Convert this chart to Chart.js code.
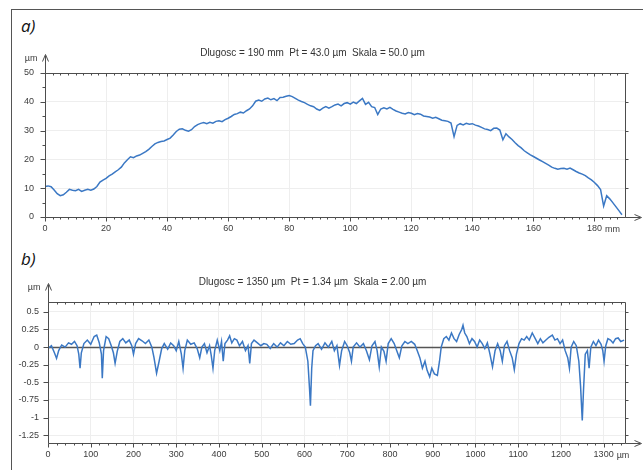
<!DOCTYPE html>
<html>
<head>
<meta charset="utf-8">
<script src="https://cdn.jsdelivr.net/npm/chart.js@4"></script>
<style>
  body { margin: 0; background: #fff; }
  #wrap { position: relative; width: 643px; height: 470px; overflow: hidden; background: #fff; }
  #frame { position: absolute; left: 11px; top: 9px; width: 700px; height: 500px; border-left: 1px solid #555; border-top: 1px solid #555; }
  .tag { position: absolute; font-family: "Open Sans", sans-serif; font-style: italic; font-size: 17px; color: #111; line-height: 1; }
  canvas { position: absolute; left: 0; }
</style>
</head>
<body>
<div id="wrap">
  <div id="frame"></div>
  <div class="tag" style="left:21px;top:17px">a)</div>
  <div class="tag" style="left:21px;top:250px">b)</div>
  <canvas id="chartA" width="643" height="200" style="top:40px"></canvas>
  <canvas id="chartB" width="643" height="202" style="top:268px"></canvas>
</div>
<script>
// panel a) - long profile, mm / um
const aMm = [0,1,2,3,4,5,6,7,8,9,10,11,12,13,14,15,16,17,18,19,20,21,22,23,24,25,26,27,28,29,30,31,32,33,34,35,36,37,38,39,40,41,42,43,44,45,46,47,48,49,50,51,52,53,54,55,56,57,58,59,60,61,62,63,64,65,66,67,68,69,70,71,72,73,74,75,76,77,78,79,80,81,82,83,84,85,86,87,88,89,90,91,92,93,94,95,96,97,98,99,100,101,102,103,104,105,106,107,108,109,110,111,112,113,114,115,116,117,118,119,120,121,122,123,124,125,126,127,128,129,130,131,132,133,134,135,136,137,138,139,140,141,142,143,144,145,146,147,148,149,150,151,152,153,154,155,156,157,158,159,160,161,162,163,164,165,166,167,168,169,170,171,172,173,174,175,176,177,178,179,180,181,182,183,184,185,186,187,188,189];
const aUm = [10.6,10.8,10.5,9.4,8.1,7.4,7.7,8.6,9.6,9.3,9.1,9.6,8.9,9.3,9.6,9.3,9.7,10.6,12.1,12.8,13.4,14.3,14.9,15.7,16.4,17.3,18.8,19.9,20.9,20.6,21.2,21.5,22.1,22.7,23.5,24.5,25.4,25.9,26.2,26.4,26.9,27.4,28.5,29.7,30.5,30.6,30.1,29.8,30.3,31.4,32.1,32.5,32.8,32.4,32.9,32.6,33.2,33.4,33.1,33.8,34.3,34.9,35.6,35.9,36.4,36.1,36.9,37.5,38.6,40.2,40.6,40.2,41.0,41.3,40.7,41.1,40.4,41.5,41.6,41.9,42.2,41.8,41.2,40.6,40.1,39.7,39.1,38.6,38.3,37.5,37.0,37.8,38.3,37.8,38.3,38.9,39.2,38.6,39.4,39.7,39.2,39.9,39.4,40.3,41.2,39.1,39.8,38.3,38.0,35.6,37.5,37.9,37.5,38.1,37.4,36.8,36.4,36.0,35.8,36.3,36.0,35.5,35.9,35.7,35.1,34.9,34.7,34.3,34.6,34.1,33.6,33.4,33.2,32.6,27.9,31.8,32.4,32.0,32.5,32.2,32.4,31.9,31.6,31.1,30.6,30.4,30.0,30.8,30.9,30.2,26.8,28.9,27.8,26.9,25.8,24.8,24.0,23.0,22.3,21.6,21.0,20.4,19.8,19.2,18.6,18.0,17.3,16.9,16.6,16.8,16.9,16.6,17.0,16.4,15.8,15.3,14.9,14.4,13.6,12.9,12.0,10.9,9.5,3.8,7.4,6.3,5.0,3.6,2.2,0.8];
const aXTicks = [0,20,40,60,80,100,120,140,160,180];
const aXMinor = [2.5,5,7.5,10,12.5,15,17.5,22.5,25,27.5,30,32.5,35,37.5,42.5,45,47.5,50,52.5,55,57.5,62.5,65,67.5,70,72.5,75,77.5,82.5,85,87.5,90,92.5,95,97.5,102.5,105,107.5,110,112.5,115,117.5,122.5,125,127.5,130,132.5,135,137.5,142.5,145,147.5,150,152.5,155,157.5,162.5,165,167.5,170,172.5,175,177.5,182.5,185,187.5];
const aYTicks = [0,10,20,30,40,50];
const aYMinor = [5,15,25,35,45];

// panel b) - short profile, um / um
const bPos = [0,8,15,20,25,32,40,48,55,62,68,72,75,78,84,92,100,108,114,120,125,127,130,136,142,148,153,157,162,168,175,182,190,196,200,205,212,220,228,236,243,248,254,260,266,272,280,287,294,300,306,312,316,320,326,334,342,349,355,360,366,372,378,382,386,390,396,402,406,410,414,420,425,430,436,442,448,455,462,468,472,476,482,490,498,505,512,520,528,536,544,552,560,568,576,584,590,596,602,608,612,614,617,620,626,632,640,648,656,664,670,676,682,687,694,700,706,710,714,722,730,738,745,752,758,765,770,775,780,786,791,796,803,810,816,822,828,835,842,850,858,864,870,876,882,887,893,898,904,911,916,920,926,932,938,944,950,956,962,968,971,975,980,986,992,998,1004,1010,1016,1022,1028,1034,1040,1046,1052,1058,1063,1068,1074,1080,1086,1091,1096,1102,1108,1114,1120,1126,1133,1140,1146,1152,1158,1165,1172,1180,1186,1192,1198,1204,1210,1216,1220,1224,1230,1236,1242,1246,1250,1253,1257,1262,1266,1270,1276,1282,1288,1294,1298,1301,1305,1310,1316,1322,1328,1334,1340,1348];
const bVal = [-0.02,0.02,-0.08,-0.16,-0.05,0.03,0.0,0.06,0.04,0.08,0.02,-0.1,-0.3,-0.08,0.05,0.1,0.04,0.15,0.17,0.06,-0.1,-0.44,-0.05,0.15,0.12,0.02,-0.08,-0.23,-0.06,0.08,0.12,0.06,0.1,0.02,-0.1,0.05,0.12,0.09,0.05,0.1,0.0,-0.15,-0.37,-0.2,-0.02,0.05,-0.03,0.06,0.02,-0.05,0.08,-0.1,-0.3,-0.05,0.1,0.04,0.06,-0.02,-0.15,0.0,0.05,-0.08,0.02,-0.12,-0.3,-0.05,0.1,-0.05,0.08,-0.2,0.05,0.1,0.16,0.06,0.12,0.1,0.02,0.08,-0.05,0.02,-0.23,0.05,0.1,0.06,0.02,0.05,0.04,-0.02,0.05,0.0,0.06,0.02,0.08,0.04,0.05,0.1,0.12,0.05,0.0,-0.2,-0.6,-0.83,-0.3,-0.05,0.02,0.05,-0.03,0.06,0.0,0.08,-0.05,0.02,-0.26,-0.05,0.08,0.02,-0.08,-0.2,0.0,0.06,0.0,0.05,-0.05,-0.18,0.02,0.08,-0.05,-0.28,0.0,-0.06,-0.2,0.05,0.12,0.05,-0.05,-0.15,0.02,0.08,0.05,0.08,0.04,-0.05,-0.15,-0.3,-0.2,-0.33,-0.42,-0.3,-0.38,-0.4,-0.2,0.0,0.12,0.15,0.1,0.2,0.12,0.08,0.18,0.25,0.31,0.2,0.15,0.05,0.12,0.08,0.0,0.1,0.05,-0.02,0.06,-0.1,-0.28,-0.05,0.05,-0.05,-0.2,0.02,0.08,-0.05,-0.15,-0.32,-0.1,0.05,0.12,0.1,0.15,0.1,0.2,0.12,0.05,0.12,0.06,0.1,0.14,0.17,0.1,0.12,0.05,0.1,-0.05,-0.15,-0.3,0.0,0.08,0.02,-0.2,-0.55,-1.04,-0.6,-0.1,-0.05,-0.3,0.0,0.08,0.02,0.1,0.04,-0.05,-0.2,0.02,0.12,0.1,0.06,0.12,0.13,0.08,0.1];
const bXTicks = [0,100,200,300,400,500,600,700,800,900,1000,1100,1200,1300];
const bXMinor = [20,40,60,80,120,140,160,180,220,240,260,280,320,340,360,380,420,440,460,480,520,540,560,580,620,640,660,680,720,740,760,780,820,840,860,880,920,940,960,980,1020,1040,1060,1080,1120,1140,1160,1180,1220,1240,1260,1280,1320,1340];
const bYTicks = [-1.25,-1,-0.75,-0.5,-0.25,0,0.25,0.5];

const FONT = "'Liberation Sans', Arial, sans-serif";
const AXIS = '#4d4d4d';
const LINE = '#3b78c4';

// frame, rulers, arrows and unit labels drawn with the chart's own scales
const decor = {
  id: 'decor',
  beforeDatasetsDraw(chart, args, o) {
    if (!o.zeroLine) return;
    const {ctx, chartArea: a, scales: {y}} = chart;
    const py = Math.round(y.getPixelForValue(0)) + 0.5;
    ctx.save();
    ctx.strokeStyle = '#555';
    ctx.lineWidth = 1.5;
    ctx.beginPath(); ctx.moveTo(a.left, py); ctx.lineTo(a.right, py); ctx.stroke();
    ctx.restore();
  },
  afterDraw(chart, args, o) {
    const {ctx, chartArea: a, scales: {x, y}} = chart;
    const L = Math.round(a.left) + 0.5, R = Math.round(a.right) + 0.5;
    const T = Math.round(a.top) + 0.5, B = Math.round(a.bottom) + 0.5;
    ctx.save();
    ctx.strokeStyle = AXIS;
    ctx.lineWidth = 1;
    ctx.beginPath();
    ctx.moveTo(L, B); ctx.lineTo(L, T); ctx.lineTo(R, T); ctx.lineTo(R, B); ctx.lineTo(L, B);
    // y axis ticks (left) and right ticks
    o.yMajor.forEach(v => { const p = Math.round(y.getPixelForValue(v)) + 0.5; ctx.moveTo(L - 5, p); ctx.lineTo(L, p); ctx.moveTo(R, p); ctx.lineTo(R + 3, p); });
    (o.yMinor || []).forEach(v => { const p = Math.round(y.getPixelForValue(v)) + 0.5; ctx.moveTo(L - 3, p); ctx.lineTo(L, p); });
    // x axis ticks (bottom) and top ruler
    o.xMajor.forEach(v => { const p = Math.round(x.getPixelForValue(v)) + 0.5; ctx.moveTo(p, B); ctx.lineTo(p, B + 4); ctx.moveTo(p, T); ctx.lineTo(p, T + 3); });
    o.xMinor.forEach(v => { const p = Math.round(x.getPixelForValue(v)) + 0.5; ctx.moveTo(p, B); ctx.lineTo(p, B + 2); ctx.moveTo(p, T); ctx.lineTo(p, T + 2); });
    // arrows
    ctx.moveTo(L, T); ctx.lineTo(L, T - 18);
    ctx.moveTo(L - 3, T - 12); ctx.lineTo(L, T - 19); ctx.lineTo(L + 3, T - 12);
    ctx.moveTo(R, B); ctx.lineTo(R + 15, B);
    ctx.moveTo(R + 9, B - 3); ctx.lineTo(R + 16, B); ctx.lineTo(R + 9, B + 3);
    ctx.stroke();
    // units
    ctx.fillStyle = '#3c3c3c';
    ctx.font = '9px ' + FONT;
    ctx.textBaseline = 'middle';
    ctx.textAlign = 'right';
    ctx.fillText(o.yUnit, L - 8, T - 15);
    const last = o.xMajor[o.xMajor.length - 1];
    const w = ctx.measureText(String(last)).width;
    ctx.textAlign = 'left';
    ctx.fillText(o.xUnit, x.getPixelForValue(last) + w / 2 + 3, B + 12);
    ctx.restore();
  }
};

function makeChart(id, xs, ys, opt) {
  return new Chart(document.getElementById(id), {
    type: 'line',
    data: {
      datasets: [{
        data: xs.map((v, i) => ({x: v, y: ys[i]})),
        borderColor: LINE,
        borderWidth: 1.5,
        pointRadius: 0,
        tension: 0
      }]
    },
    options: {
      responsive: false,
      animation: false,
      events: [],
      layout: {padding: {left: 0, right: 18, top: 0, bottom: 0}},
      scales: {
        x: {
          type: 'linear', min: 0, max: opt.xMax,
          afterBuildTicks: s => { s.ticks = opt.xTicks.map(v => ({value: v})); },
          afterFit: s => { s.height = opt.xH; },
          ticks: {font: {family: FONT, size: 9}, color: '#3c3c3c', padding: 6, maxRotation: 0, autoSkip: false, callback: v => String(v)},
          grid: {color: '#eeeeee', drawTicks: false},
          border: {display: false}
        },
        y: {
          min: opt.yMin, max: opt.yMax,
          afterBuildTicks: s => { s.ticks = opt.yTicks.map(v => ({value: v})); },
          afterFit: s => { s.width = opt.yW; },
          ticks: {font: {family: FONT, size: 9}, color: '#3c3c3c', padding: opt.yPad, callback: v => String(v)},
          grid: {color: '#eeeeee', drawTicks: false},
          border: {display: false}
        }
      },
      plugins: {
        legend: {display: false},
        tooltip: {enabled: false},
        title: {
          display: true, text: opt.title, color: '#333',
          font: {family: FONT, size: 10, weight: 'normal'},
          padding: {top: opt.tTop, bottom: opt.tBottom}
        },
        decor: {
          xMajor: opt.xTicks, xMinor: opt.xMinor, yMajor: opt.yTicks, yMinor: opt.yMinor,
          xUnit: opt.xUnit, yUnit: 'µm', zeroLine: opt.zeroLine
        }
      }
    },
    plugins: [decor]
  });
}

makeChart('chartA', aMm, aUm, {
  title: 'Dlugosc = 190 mm  Pt = 43.0 µm  Skala = 50.0 µm',
  xMax: 190, xTicks: aXTicks, xMinor: aXMinor, xUnit: 'mm', xH: 23,
  yMin: 0, yMax: 50, yTicks: aYTicks, yMinor: aYMinor, yW: 45, yPad: 11,
  tTop: 7, tBottom: 14, zeroLine: false
});

makeChart('chartB', bPos, bVal, {
  title: 'Dlugosc = 1350 µm  Pt = 1.34 µm  Skala = 2.00 µm',
  xMax: 1350, xTicks: bXTicks, xMinor: bXMinor, xUnit: 'µm', xH: 27,
  yMin: -1.36, yMax: 0.64, yTicks: bYTicks, yMinor: [], yW: 48, yPad: 9,
  tTop: 8, tBottom: 14, zeroLine: true
});
</script>
</body>
</html>
